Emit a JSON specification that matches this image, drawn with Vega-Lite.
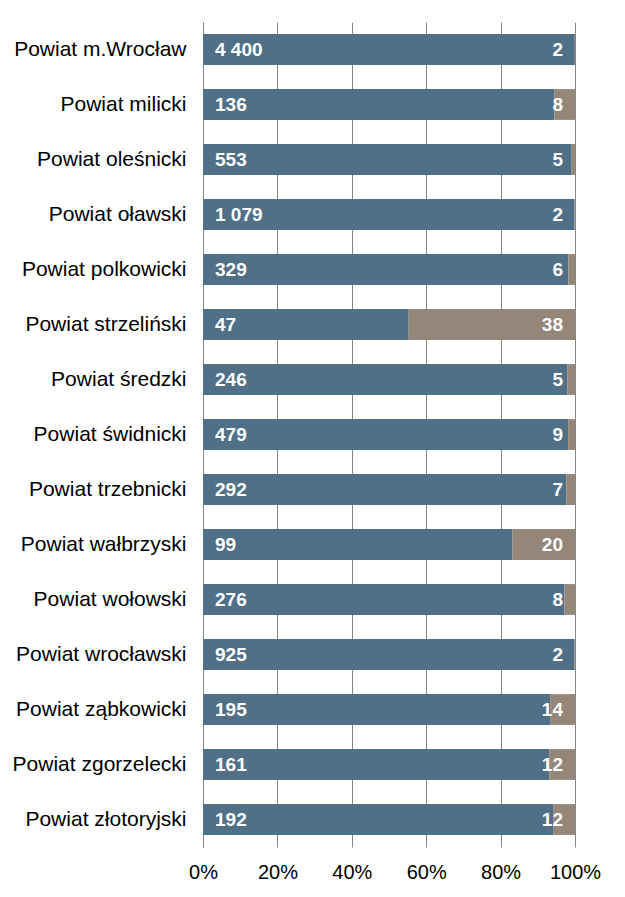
{
  "$schema": "https://vega.github.io/schema/vega-lite/v6.json",
  "width": 372,
  "height": 825,
  "autosize": {"type": "none"},
  "padding": {"left": 203, "top": 22, "right": 50, "bottom": 50},
  "background": "white",
  "config": {
    "view": {"stroke": null},
    "font": "Liberation Sans",
    "locale": {
      "number": {"decimal": ",", "thousands": " ", "grouping": [3], "currency": ["", " zł"]}
    }
  },
  "data": {
    "values": [
      {"powiat": "Powiat m.Wrocław", "series": "A", "value": 4400},
      {"powiat": "Powiat m.Wrocław", "series": "B", "value": 2},
      {"powiat": "Powiat milicki", "series": "A", "value": 136},
      {"powiat": "Powiat milicki", "series": "B", "value": 8},
      {"powiat": "Powiat oleśnicki", "series": "A", "value": 553},
      {"powiat": "Powiat oleśnicki", "series": "B", "value": 5},
      {"powiat": "Powiat oławski", "series": "A", "value": 1079},
      {"powiat": "Powiat oławski", "series": "B", "value": 2},
      {"powiat": "Powiat polkowicki", "series": "A", "value": 329},
      {"powiat": "Powiat polkowicki", "series": "B", "value": 6},
      {"powiat": "Powiat strzeliński", "series": "A", "value": 47},
      {"powiat": "Powiat strzeliński", "series": "B", "value": 38},
      {"powiat": "Powiat średzki", "series": "A", "value": 246},
      {"powiat": "Powiat średzki", "series": "B", "value": 5},
      {"powiat": "Powiat świdnicki", "series": "A", "value": 479},
      {"powiat": "Powiat świdnicki", "series": "B", "value": 9},
      {"powiat": "Powiat trzebnicki", "series": "A", "value": 292},
      {"powiat": "Powiat trzebnicki", "series": "B", "value": 7},
      {"powiat": "Powiat wałbrzyski", "series": "A", "value": 99},
      {"powiat": "Powiat wałbrzyski", "series": "B", "value": 20},
      {"powiat": "Powiat wołowski", "series": "A", "value": 276},
      {"powiat": "Powiat wołowski", "series": "B", "value": 8},
      {"powiat": "Powiat wrocławski", "series": "A", "value": 925},
      {"powiat": "Powiat wrocławski", "series": "B", "value": 2},
      {"powiat": "Powiat ząbkowicki", "series": "A", "value": 195},
      {"powiat": "Powiat ząbkowicki", "series": "B", "value": 14},
      {"powiat": "Powiat zgorzelecki", "series": "A", "value": 161},
      {"powiat": "Powiat zgorzelecki", "series": "B", "value": 12},
      {"powiat": "Powiat złotoryjski", "series": "A", "value": 192},
      {"powiat": "Powiat złotoryjski", "series": "B", "value": 12}
    ]
  },
  "encoding": {
    "y": {
      "field": "powiat",
      "type": "nominal",
      "sort": null,
      "scale": {"paddingInner": 0.44, "paddingOuter": 0.22},
      "axis": {
        "title": null,
        "labelFontSize": 21,
        "labelColor": "#000000",
        "labelPadding": 17,
        "labelLimit": 300,
        "ticks": false,
        "domainColor": "#868686",
        "domainWidth": 1
      }
    }
  },
  "layer": [
    {
      "mark": {"type": "bar"},
      "encoding": {
        "x": {
          "field": "value",
          "type": "quantitative",
          "stack": "normalize",
          "scale": {"domain": [0, 1], "nice": false},
          "axis": {
            "title": null,
            "values": [0, 0.2, 0.4, 0.6, 0.8, 1],
            "format": ".0%",
            "grid": true,
            "gridColor": "#868686",
            "gridWidth": 1,
            "domain": false,
            "ticks": false,
            "labelFontSize": 20,
            "labelColor": "#000000",
            "labelPadding": 15,
            "labelFlush": false
          }
        },
        "color": {
          "field": "series",
          "type": "nominal",
          "scale": {"domain": ["A", "B"], "range": ["#4F7087", "#948679"]},
          "legend": null
        },
        "order": {"field": "series"}
      }
    },
    {
      "transform": [{"filter": "datum.series === 'A'"}],
      "mark": {"type": "text", "align": "left", "baseline": "middle", "dx": 12, "fontWeight": "bold", "fontSize": 19, "color": "#FFFFFF"},
      "encoding": {
        "x": {"datum": 0, "type": "quantitative"},
        "text": {"field": "value", "type": "quantitative", "format": ",d"}
      }
    },
    {
      "transform": [{"filter": "datum.series === 'B'"}],
      "mark": {"type": "text", "align": "right", "baseline": "middle", "dx": -12, "fontWeight": "bold", "fontSize": 19, "color": "#FFFFFF"},
      "encoding": {
        "x": {"datum": 1, "type": "quantitative"},
        "text": {"field": "value", "type": "quantitative", "format": ",d"}
      }
    }
  ]
}
